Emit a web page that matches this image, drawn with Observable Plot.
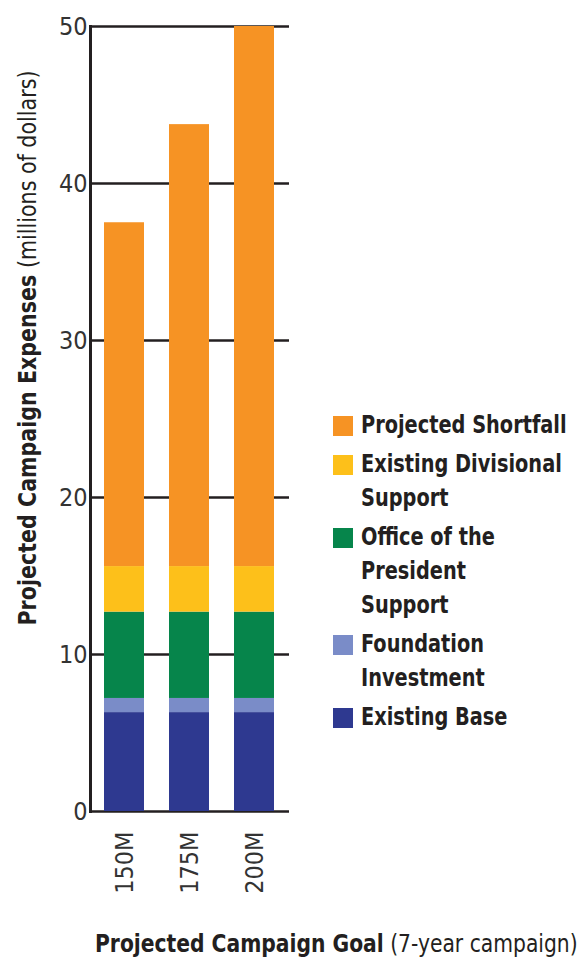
<!DOCTYPE html>
<html>
<head>
<meta charset="utf-8">
<script src="https://cdn.jsdelivr.net/npm/d3@7"></script>
<script src="https://cdn.jsdelivr.net/npm/@observablehq/plot@0.6"></script>
<style>
  body { margin: 0; background: #fff; }
  #wrap {
    position: relative; width: 581px; height: 959px; overflow: hidden;
    font-family: "DejaVu Sans Condensed", "DejaVu Sans", sans-serif;
    font-stretch: condensed;
    color: #231f20;
  }
  #chart { position: absolute; left: 0; top: 0; }
  .ytitle {
    position: absolute; left: 28px; top: 348px; white-space: nowrap;
    font-size: 24px; line-height: 28px;
  }
  .xtitle {
    position: absolute; left: 95px; top: 930px; white-space: nowrap;
    font-size: 24px; line-height: 28px; transform-origin: 0 50%;
  }
  b { font-weight: bold; }
  #legend { position: absolute; left: 333px; top: 408px; }
  .item { display: flex; align-items: flex-start; margin-bottom: 5px; }
  .sw { width: 20px; height: 20px; margin-top: 8px; margin-right: 8px; flex: none; }
  .lab { font-weight: bold; font-size: 24px; line-height: 34px; white-space: pre; transform-origin: 0 50%; }
</style>
</head>
<body>
<div id="wrap">
  <div id="chart"></div>
  <div class="ytitle"><b>Projected Campaign Expenses</b> (millions of dollars)</div>
  <div class="xtitle"><b>Projected Campaign Goal</b> (7-year campaign)</div>
  <div id="legend"></div>
</div>
<script>
// Campaign goals (x categories)
const goals = ["150M", "175M", "200M"];

// Expense components, bottom of the stack first
const series = [
  "Existing Base",
  "Foundation Investment",
  "Office of the President Support",
  "Existing Divisional Support",
  "Projected Shortfall"
];
const legendLabels = [
  "Existing Base",
  "Foundation\nInvestment",
  "Office of the\nPresident\nSupport",
  "Existing Divisional\nSupport",
  "Projected Shortfall"
];
const colors = ["#2e3990", "#7a8cc8", "#06854b", "#fdc01a", "#f69324"];

// Values in millions of dollars, one per goal
const existingBase = [6.3, 6.3, 6.3];
const foundationInvestment = [0.9, 0.9, 0.9];
const presidentSupport = [5.5, 5.5, 5.5];
const divisionalSupport = [2.9, 2.9, 2.9];
const projectedShortfall = [21.9, 28.15, 34.4];

const yTicks = [0, 10, 20, 30, 40, 50];

const valuesBySeries = [existingBase, foundationInvestment, presidentSupport, divisionalSupport, projectedShortfall];
const rows = [];
series.forEach((s, i) => {
  goals.forEach((g, j) => rows.push({ goal: g, series: s, value: valuesBySeries[i][j] }));
});

const ink = "#231f20";

const chart = Plot.plot({
  width: 581,
  height: 900,
  marginLeft: 90,
  marginRight: 292,
  marginTop: 26,
  marginBottom: 89,
  style: { fontFamily: "'DejaVu Sans Condensed', 'DejaVu Sans', sans-serif", fontStretch: "condensed", color: ink, background: "transparent" },
  x: { domain: goals, paddingInner: 0.38, paddingOuter: 0.2, label: null },
  y: { domain: [0, 50], label: null },
  color: { domain: series, range: colors },
  marks: [
    Plot.gridY(yTicks, { stroke: ink, strokeOpacity: 1, strokeWidth: 2.6 }),
    Plot.barY(rows, { x: "goal", y: "value", fill: "series" }),
    Plot.frame({ anchor: "left", stroke: ink, strokeWidth: 3 }),
    Plot.axisY(yTicks, { tickSize: 0, tickPadding: 3, fontSize: 25, fill: "#333", label: null }),
    Plot.axisX({ tickSize: 0, tickPadding: 20, tickRotate: -90, fontSize: 25, fill: "#333", label: null })
  ]
});
document.getElementById("chart").appendChild(chart);

// Legend, top entry is the top of the stack
const legend = d3.select("#legend");
for (let i = series.length - 1; i >= 0; i--) {
  const item = legend.append("div").attr("class", "item");
  item.append("div").attr("class", "sw").style("background", colors[i]);
  item.append("div").attr("class", "lab").text(legendLabels[i]);
}

// Narrow the HTML titles and legend text to a condensed set width
function squeeze(el, width) {
  return Math.min(1, width / el.scrollWidth);
}
const xTitle = document.querySelector(".xtitle");
xTitle.style.transform = `scaleX(${squeeze(xTitle, 483)})`;

const yTitle = document.querySelector(".ytitle");
const yScale = squeeze(yTitle, 555);
const yW = yTitle.scrollWidth, yH = yTitle.offsetHeight;
yTitle.style.transformOrigin = "0 0";
yTitle.style.transform = `translate(${-yH / 2}px, ${yW * yScale / 2}px) rotate(-90deg) scaleX(${yScale})`;

const labs = document.querySelectorAll(".lab");
const labScale = squeeze(labs[0], 206);
labs.forEach(l => { l.style.transform = `scaleX(${labScale})`; });
</script>
</body>
</html>
